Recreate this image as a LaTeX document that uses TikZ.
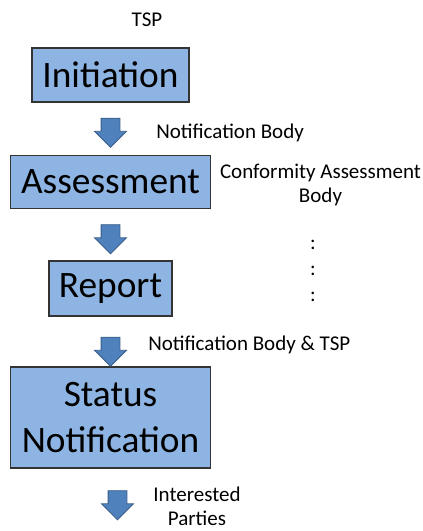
\documentclass[tikz,border=0pt]{standalone}
\usepackage{fontspec}
\setmainfont{Carlito}
\usetikzlibrary{shapes.arrows}
\definecolor{boxblue}{HTML}{8DB4E2}
\definecolor{arrowblue}{HTML}{4F81BD}
\definecolor{arrowline}{HTML}{385D8A}

\begin{document}
\begin{tikzpicture}[x=0.75pt,y=-0.75pt]
    \tikzstyle{stage}=[rectangle, draw=black!80, line width=0.8pt, fill=boxblue, inner sep=0pt, align=center, font=\fontsize{28}{34.5}\selectfont]
    \tikzstyle{flow}=[single arrow, draw=arrowline, fill=arrowblue, line width=0.6pt, inner xsep=0pt, inner ysep=6.75pt, minimum height=21.75pt, minimum width=23.25pt, single arrow head extend=4.9pt, rotate=-90]
    \tikzstyle{actor}=[inner sep=0pt, align=center, font=\fontsize{15.75}{18}\selectfont]
    \useasboundingbox (0,0) rectangle (423,531);

    % Draw the stages
    \node[stage, minimum width=117.75pt, minimum height=40.5pt] (Init) at (110.5,75) {Initiation};
    \node[stage, minimum width=150pt, minimum height=39.75pt] (Assess) at (110.5,182) {Assessment};
    \node[stage, minimum width=92.25pt, minimum height=41.25pt] (Report) at (110.5,288.5) {Report};
    \node[stage, minimum width=150pt, minimum height=75.75pt] (Status) at (110.5,417.5) {Status\\Notification};

    % Draw the block arrows between stages
    \node[flow] (F1) at (110.5,128) {};
    \node[flow] (F2) at (110.5,234.5) {};
    \node[flow] (F3) at (110.5,347) {};
    \node[flow] (F4) at (117.5,500.5) {};

    % Draw the parties in charge
    \node[actor] (TSP) at (147,20) {TSP};
    \node[actor, anchor=west] (NB) at (156,133) {Notification Body};
    \node[actor] (CAB) at (320.5,185) {Conformity Assessment\\Body};
    \foreach \y/\n in {245/1,271/2,297/3}
        \node[actor] (Dots-\n) at (313,\y) {:};
    \node[actor, anchor=west] (NBTSP) at (148,345) {Notification Body \& TSP};
    \node[actor] (IP) at (197,506) {Interested\\Parties};
\end{tikzpicture}
\end{document}
